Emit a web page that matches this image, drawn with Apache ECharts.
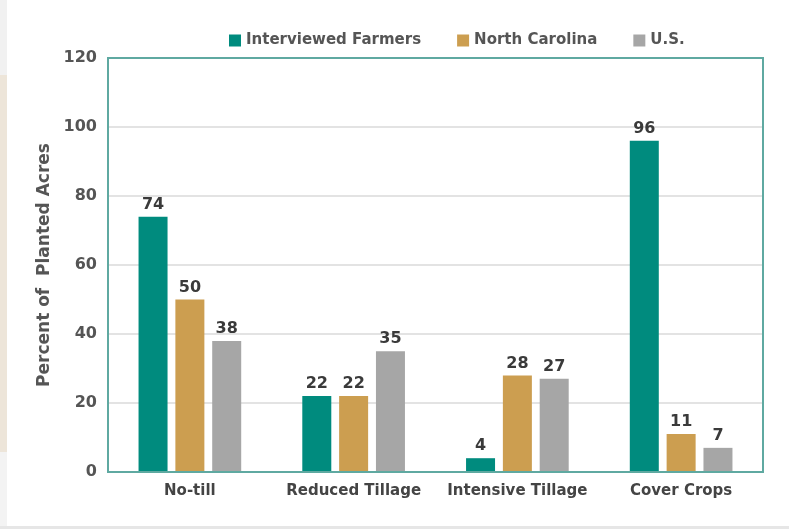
<!DOCTYPE html>
<html>
<head>
<meta charset="utf-8">
<script src="https://cdn.jsdelivr.net/npm/echarts@6/dist/echarts.min.js"></script>
<style>
  html, body { margin: 0; padding: 0; background: #fff; }
  #chart1 { width: 789px; height: 529px; }
</style>
</head>
<body>
<div id="chart1"></div>
<script>
const categories = ['No-till', 'Reduced Tillage', 'Intensive Tillage', 'Cover Crops']
const farmersData = [74, 22, 4, 96]
const ncData = [50, 22, 28, 11]
const usData = [38, 35, 27, 7]
const seriesNames = ['Interviewed Farmers', 'North Carolina', 'U.S.']
const colors = ['#008b7e', '#cc9e50', '#a6a6a6']

const FONT = '"DejaVu Sans", "Open Sans", sans-serif'

const labelStyle = {
  show: true,
  position: 'top',
  distance: 4,
  color: '#3a3a3a',
  fontFamily: FONT,
  fontWeight: 'bold',
  fontSize: 16
}

const makeSeries = (name, data, color) => ({
  name: name,
  type: 'bar',
  data: data,
  barWidth: 29,
  barGap: '27%',
  itemStyle: { color: color },
  label: labelStyle
})

const chart1 = echarts.init(document.getElementById('chart1'))
chart1.setOption({
  backgroundColor: '#fff',
  animation: false,
  color: colors,
  graphic: [
    // page decorations
    { type: 'rect', shape: { x: 0, y: 0, width: 7, height: 75 }, style: { fill: '#f1f1f1' } },
    { type: 'rect', shape: { x: 0, y: 75, width: 7, height: 377 }, style: { fill: '#ede5d9' } },
    { type: 'rect', shape: { x: 0, y: 452, width: 7, height: 77 }, style: { fill: '#f3f3f3' } },
    { type: 'rect', shape: { x: 0, y: 526, width: 789, height: 3 }, style: { fill: '#e6e6e6' } }
  ],
  legend: {
    top: 28,
    left: 224,
    itemWidth: 12,
    itemHeight: 12,
    itemGap: 36,
    icon: 'rect',
    textStyle: { color: '#555', fontFamily: FONT, fontWeight: 'bold', fontSize: 15 },
    data: seriesNames
  },
  grid: {
    left: 108,
    right: 26,
    top: 58,
    bottom: 57,
    show: true,
    borderColor: '#5fa9a1',
    borderWidth: 2,
    containLabel: false,
    z: 3
  },
  xAxis: {
    type: 'category',
    data: categories,
    axisLine: { show: false },
    axisTick: { show: false },
    axisLabel: { interval: 0, color: '#444', fontFamily: FONT, fontWeight: 'bold', fontSize: 15, margin: 12 }
  },
  yAxis: {
    type: 'value',
    min: 0,
    max: 120,
    interval: 20,
    name: 'Percent of  Planted Acres',
    nameLocation: 'middle',
    nameGap: 52,
    nameTextStyle: { color: '#555', fontFamily: FONT, fontWeight: 'bold', fontSize: 17 },
    axisLine: { show: false },
    axisTick: { show: false },
    splitLine: { showMinLine: false, showMaxLine: false, lineStyle: { color: '#e3e3e3', width: 2 } },
    axisLabel: { color: '#555', fontFamily: FONT, fontWeight: 'bold', fontSize: 16, margin: 11 }
  },
  series: [
    makeSeries(seriesNames[0], farmersData, colors[0]),
    makeSeries(seriesNames[1], ncData, colors[1]),
    makeSeries(seriesNames[2], usData, colors[2])
  ]
})
</script>
</body>
</html>
